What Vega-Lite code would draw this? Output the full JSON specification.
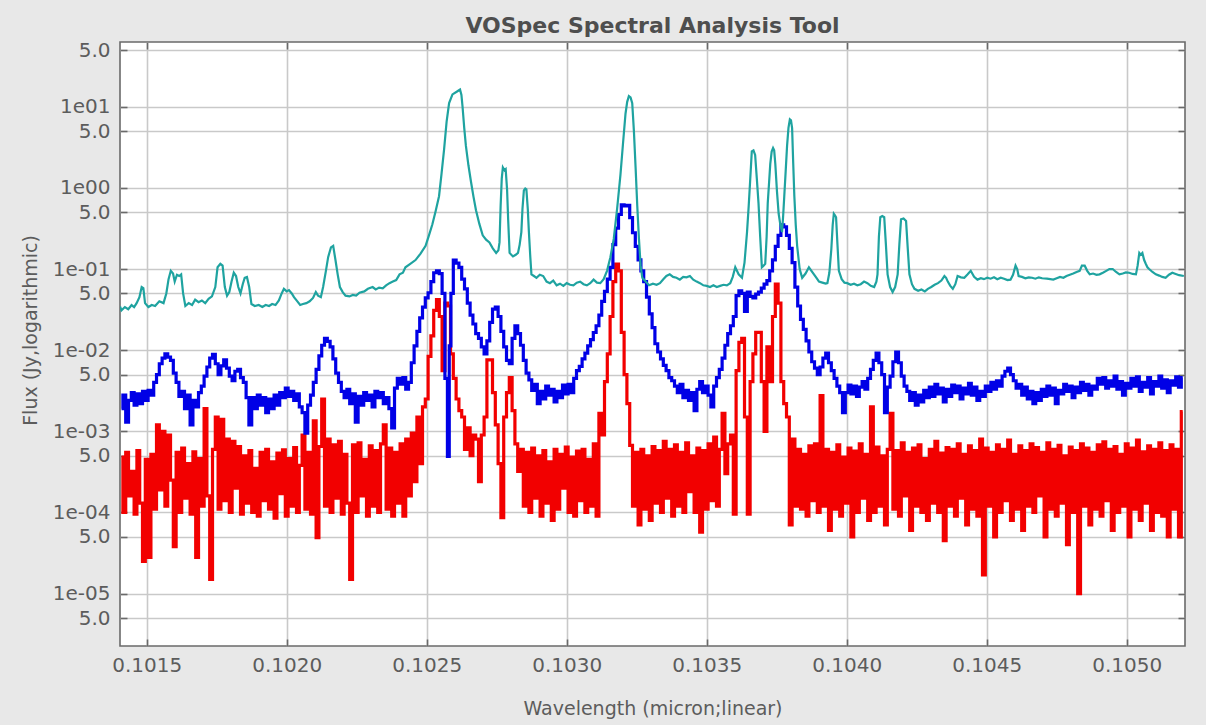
{
"$schema":"https://vega.github.io/schema/vega-lite/v6.json",
"width":1065,"height":604,
"autosize":"none",
"padding":{"left":120,"top":42,"right":21,"bottom":79},
"background":"#e8e8e8",
"title":{"text":"VOSpec Spectral Analysis Tool","font":"DejaVu Sans","fontSize":22,"fontWeight":"bold","color":"#4e4e4e","anchor":"middle","baseline":"alphabetic","offset":11,"dy":26},
"config":{"view":{"stroke":"#6a6a6a","strokeWidth":1.6,"fill":"white"}},
"resolve":{"axis":{"x":"independent","y":"independent"}},
"layer":[
{"data":{"values":[
{"w":0.10141,"f":0.00048},{"w":0.10142,"f":0.0001},{"w":0.10143,"f":0.00055},{"w":0.10144,"f":0.00016},{"w":0.10145,"f":0.00032},{"w":0.10146,"f":0.000095},{"w":0.10147,"f":0.00058},{"w":0.10148,"f":0.00013},{"w":0.10149,"f":0.000025},{"w":0.1015,"f":0.00045},
{"w":0.10151,"f":0.000028},{"w":0.10152,"f":0.00052},{"w":0.10153,"f":0.00011},{"w":0.10154,"f":0.0012},{"w":0.10155,"f":0.00019},{"w":0.10156,"f":0.001},{"w":0.10157,"f":0.00012},{"w":0.10158,"f":0.0009},{"w":0.10159,"f":0.00025},{"w":0.1016,"f":0.000038},
{"w":0.10161,"f":0.00055},{"w":0.10162,"f":0.0001},{"w":0.10163,"f":0.00062},{"w":0.10164,"f":0.00015},{"w":0.10165,"f":0.0004},{"w":0.10166,"f":0.000095},{"w":0.10167,"f":0.00056},{"w":0.10168,"f":0.000028},{"w":0.10169,"f":0.00046},{"w":0.1017,"f":0.00012},
{"w":0.10171,"f":0.0019},{"w":0.10172,"f":0.00016},{"w":0.10173,"f":0.000015},{"w":0.10174,"f":0.0006},{"w":0.10175,"f":0.0015},{"w":0.10176,"f":0.00011},{"w":0.10177,"f":0.0014},{"w":0.10178,"f":0.00014},{"w":0.10179,"f":0.0008},{"w":0.1018,"f":0.0001},
{"w":0.10181,"f":0.00075},{"w":0.10182,"f":0.0002},{"w":0.10183,"f":0.00065},{"w":0.10184,"f":0.000095},{"w":0.10185,"f":0.0005},{"w":0.10186,"f":0.00013},{"w":0.10187,"f":0.00058},{"w":0.10188,"f":0.0001},{"w":0.10189,"f":0.00035},{"w":0.1019,"f":0.00009},
{"w":0.10191,"f":0.00055},{"w":0.10192,"f":0.00014},{"w":0.10193,"f":0.0006},{"w":0.10194,"f":0.00011},{"w":0.10195,"f":0.00042},{"w":0.10196,"f":0.000085},{"w":0.10197,"f":0.00054},{"w":0.10198,"f":0.00017},{"w":0.10199,"f":0.00059},{"w":0.102,"f":0.00009},
{"w":0.10201,"f":0.00046},{"w":0.10202,"f":0.00012},{"w":0.10203,"f":0.00063},{"w":0.10204,"f":0.0001},{"w":0.10205,"f":0.00038},{"w":0.10206,"f":0.0009},{"w":0.10207,"f":0.00011},{"w":0.10208,"f":0.00055},{"w":0.10209,"f":0.000095},{"w":0.1021,"f":0.00135},
{"w":0.10211,"f":0.000049},{"w":0.10212,"f":0.00065},{"w":0.10213,"f":0.0025},{"w":0.10214,"f":0.00012},{"w":0.10215,"f":0.0008},{"w":0.10216,"f":0.0001},{"w":0.10217,"f":0.00068},{"w":0.10218,"f":0.00015},{"w":0.10219,"f":0.00075},{"w":0.1022,"f":0.000095},
{"w":0.10221,"f":0.00052},{"w":0.10222,"f":0.00013},{"w":0.10223,"f":0.000015},{"w":0.10224,"f":0.00068},{"w":0.10225,"f":0.0001},{"w":0.10226,"f":0.00072},{"w":0.10227,"f":0.00016},{"w":0.10228,"f":0.00045},{"w":0.10229,"f":0.00009},{"w":0.1023,"f":0.00066},
{"w":0.10231,"f":0.00012},{"w":0.10232,"f":0.00058},{"w":0.10233,"f":0.0001},{"w":0.10234,"f":0.0007},{"w":0.10235,"f":0.0012},{"w":0.10236,"f":0.00011},{"w":0.10237,"f":0.00062},{"w":0.10238,"f":0.00009},{"w":0.10239,"f":0.00055},{"w":0.1024,"f":0.00013},
{"w":0.10241,"f":0.0007},{"w":0.10242,"f":0.00009},{"w":0.10243,"f":0.0008},{"w":0.10244,"f":0.00016},{"w":0.10245,"f":0.00095},{"w":0.10246,"f":0.00024},{"w":0.10247,"f":0.0015},{"w":0.10248,"f":0.0004},{"w":0.10249,"f":0.002},{"w":0.1025,"f":0.0025},
{"w":0.10251,"f":0.0084},{"w":0.10252,"f":0.015},{"w":0.10253,"f":0.031},{"w":0.10254,"f":0.042},{"w":0.10255,"f":0.026},{"w":0.10256,"f":0.0056},{"w":0.10257,"f":0.038},{"w":0.10258,"f":0.035},{"w":0.10259,"f":0.009},{"w":0.1026,"f":0.0045},
{"w":0.10261,"f":0.0025},{"w":0.10262,"f":0.0018},{"w":0.10263,"f":0.0015},{"w":0.10264,"f":0.0006},{"w":0.10265,"f":0.0011},{"w":0.10266,"f":0.0005},{"w":0.10267,"f":0.0009},{"w":0.10268,"f":0.0008},{"w":0.10269,"f":0.00024},{"w":0.1027,"f":0.0009},
{"w":0.10271,"f":0.0015},{"w":0.10272,"f":0.0076},{"w":0.10273,"f":0.0076},{"w":0.10274,"f":0.003},{"w":0.10275,"f":0.0012},{"w":0.10276,"f":0.0004},{"w":0.10277,"f":0.000086},{"w":0.10278,"f":0.0015},{"w":0.10279,"f":0.003},{"w":0.1028,"f":0.0046},
{"w":0.10281,"f":0.0018},{"w":0.10282,"f":0.0007},{"w":0.10283,"f":0.00032},{"w":0.10284,"f":0.0006},{"w":0.10285,"f":0.00012},{"w":0.10286,"f":0.00055},{"w":0.10287,"f":0.0001},{"w":0.10288,"f":0.00062},{"w":0.10289,"f":0.00015},{"w":0.1029,"f":0.0005},
{"w":0.10291,"f":0.00009},{"w":0.10292,"f":0.00058},{"w":0.10293,"f":0.00013},{"w":0.10294,"f":0.00042},{"w":0.10295,"f":0.00008},{"w":0.10296,"f":0.0006},{"w":0.10297,"f":0.00011},{"w":0.10298,"f":0.00052},{"w":0.10299,"f":0.0002},{"w":0.103,"f":0.00064},
{"w":0.10301,"f":0.0001},{"w":0.10302,"f":0.00048},{"w":0.10303,"f":0.00009},{"w":0.10304,"f":0.00057},{"w":0.10305,"f":0.00014},{"w":0.10306,"f":0.0006},{"w":0.10307,"f":0.0001},{"w":0.10308,"f":0.00045},{"w":0.10309,"f":0.00012},{"w":0.1031,"f":0.0007},
{"w":0.10311,"f":0.00009},{"w":0.10312,"f":0.00166},{"w":0.10313,"f":0.0009},{"w":0.10314,"f":0.0041},{"w":0.10315,"f":0.009},{"w":0.10316,"f":0.026},{"w":0.10317,"f":0.07},{"w":0.10318,"f":0.115},{"w":0.10319,"f":0.095},{"w":0.1032,"f":0.0166},
{"w":0.10321,"f":0.005},{"w":0.10322,"f":0.0022},{"w":0.10323,"f":0.00067},{"w":0.10324,"f":0.00012},{"w":0.10325,"f":0.00055},{"w":0.10326,"f":0.00007},{"w":0.10327,"f":0.0006},{"w":0.10328,"f":0.00011},{"w":0.10329,"f":0.0005},{"w":0.1033,"f":0.00008},
{"w":0.10331,"f":0.00065},{"w":0.10332,"f":0.00013},{"w":0.10333,"f":0.00058},{"w":0.10334,"f":0.0001},{"w":0.10335,"f":0.00075},{"w":0.10336,"f":0.00015},{"w":0.10337,"f":0.0006},{"w":0.10338,"f":0.00009},{"w":0.10339,"f":0.00068},{"w":0.1034,"f":0.00012},
{"w":0.10341,"f":0.00055},{"w":0.10342,"f":0.0001},{"w":0.10343,"f":0.00072},{"w":0.10344,"f":0.00018},{"w":0.10345,"f":0.0005},{"w":0.10346,"f":0.0001},{"w":0.10347,"f":0.00062},{"w":0.10348,"f":0.000057},{"w":0.10349,"f":0.00058},{"w":0.1035,"f":0.00011},
{"w":0.10351,"f":0.0007},{"w":0.10352,"f":0.00014},{"w":0.10353,"f":0.00085},{"w":0.10354,"f":0.00012},{"w":0.10355,"f":0.0006},{"w":0.10356,"f":0.00166},{"w":0.10357,"f":0.0003},{"w":0.10358,"f":0.0007},{"w":0.10359,"f":0.0009},{"w":0.1036,"f":0.000095},
{"w":0.10361,"f":0.0056},{"w":0.10362,"f":0.0125},{"w":0.10363,"f":0.014},{"w":0.10364,"f":0.0015},{"w":0.10365,"f":0.000095},{"w":0.10366,"f":0.0041},{"w":0.10367,"f":0.009},{"w":0.10368,"f":0.0166},{"w":0.10369,"f":0.0166},{"w":0.1037,"f":0.0041},
{"w":0.10371,"f":0.001},{"w":0.10372,"f":0.011},{"w":0.10373,"f":0.0041},{"w":0.10374,"f":0.026},{"w":0.10375,"f":0.065},{"w":0.10376,"f":0.038},{"w":0.10377,"f":0.0041},{"w":0.10378,"f":0.0022},{"w":0.10379,"f":0.0015},{"w":0.1038,"f":0.00007},
{"w":0.10381,"f":0.0008},{"w":0.10382,"f":0.00012},{"w":0.10383,"f":0.0006},{"w":0.10384,"f":0.00011},{"w":0.10385,"f":0.00052},{"w":0.10386,"f":0.00009},{"w":0.10387,"f":0.00066},{"w":0.10388,"f":0.00014},{"w":0.10389,"f":0.0007},{"w":0.1039,"f":0.0001},
{"w":0.10391,"f":0.00275},{"w":0.10392,"f":0.00012},{"w":0.10393,"f":0.0006},{"w":0.10394,"f":0.00006},{"w":0.10395,"f":0.00055},{"w":0.10396,"f":0.00011},{"w":0.10397,"f":0.00068},{"w":0.10398,"f":0.00009},{"w":0.10399,"f":0.00048},{"w":0.104,"f":0.00013},
{"w":0.10401,"f":0.00062},{"w":0.10402,"f":0.00005},{"w":0.10403,"f":0.00057},{"w":0.10404,"f":0.0001},{"w":0.10405,"f":0.0007},{"w":0.10406,"f":0.00015},{"w":0.10407,"f":0.00052},{"w":0.10408,"f":0.00008},{"w":0.10409,"f":0.002},{"w":0.1041,"f":0.0001},
{"w":0.10411,"f":0.00064},{"w":0.10412,"f":0.00012},{"w":0.10413,"f":0.0005},{"w":0.10414,"f":0.00007},{"w":0.10415,"f":0.0006},{"w":0.10416,"f":0.00166},{"w":0.10417,"f":0.00011},{"w":0.10418,"f":0.00058},{"w":0.10419,"f":0.00009},{"w":0.1042,"f":0.00072},
{"w":0.10421,"f":0.00016},{"w":0.10422,"f":0.00055},{"w":0.10423,"f":0.00006},{"w":0.10424,"f":0.00062},{"w":0.10425,"f":0.00012},{"w":0.10426,"f":0.00068},{"w":0.10427,"f":0.0001},{"w":0.10428,"f":0.00046},{"w":0.10429,"f":0.00008},{"w":0.1043,"f":0.0006},
{"w":0.10431,"f":0.00013},{"w":0.10432,"f":0.00075},{"w":0.10433,"f":0.0001},{"w":0.10434,"f":0.00054},{"w":0.10435,"f":0.000045},{"w":0.10436,"f":0.00063},{"w":0.10437,"f":0.00012},{"w":0.10438,"f":0.0006},{"w":0.10439,"f":0.00009},{"w":0.1044,"f":0.0007},
{"w":0.10441,"f":0.00015},{"w":0.10442,"f":0.00052},{"w":0.10443,"f":0.00007},{"w":0.10444,"f":0.00066},{"w":0.10445,"f":0.00011},{"w":0.10446,"f":0.00058},{"w":0.10447,"f":0.00009},{"w":0.10448,"f":0.0008},{"w":0.10449,"f":0.000017},{"w":0.1045,"f":0.00062},
{"w":0.10451,"f":0.00012},{"w":0.10452,"f":0.00055},{"w":0.10453,"f":0.00005},{"w":0.10454,"f":0.00068},{"w":0.10455,"f":0.0001},{"w":0.10456,"f":0.0006},{"w":0.10457,"f":0.00014},{"w":0.10458,"f":0.00078},{"w":0.10459,"f":0.00008},{"w":0.1046,"f":0.00052},
{"w":0.10461,"f":0.00011},{"w":0.10462,"f":0.00066},{"w":0.10463,"f":0.00006},{"w":0.10464,"f":0.00058},{"w":0.10465,"f":0.00012},{"w":0.10466,"f":0.0007},{"w":0.10467,"f":0.0001},{"w":0.10468,"f":0.00063},{"w":0.10469,"f":0.00016},{"w":0.1047,"f":0.00055},
{"w":0.10471,"f":0.00005},{"w":0.10472,"f":0.00072},{"w":0.10473,"f":0.00011},{"w":0.10474,"f":0.0006},{"w":0.10475,"f":0.00009},{"w":0.10476,"f":0.00067},{"w":0.10477,"f":0.00013},{"w":0.10478,"f":0.0005},{"w":0.10479,"f":0.00004},{"w":0.1048,"f":0.00064},
{"w":0.10481,"f":0.0001},{"w":0.10482,"f":0.00058},{"w":0.10483,"f":0.00001},{"w":0.10484,"f":0.0007},{"w":0.10485,"f":0.00012},{"w":0.10486,"f":0.00062},{"w":0.10487,"f":0.00007},{"w":0.10488,"f":0.00055},{"w":0.10489,"f":0.00011},{"w":0.1049,"f":0.00068},
{"w":0.10491,"f":0.00009},{"w":0.10492,"f":0.00074},{"w":0.10493,"f":0.00014},{"w":0.10494,"f":0.0006},{"w":0.10495,"f":0.00006},{"w":0.10496,"f":0.00065},{"w":0.10497,"f":0.0001},{"w":0.10498,"f":0.00052},{"w":0.10499,"f":0.00012},{"w":0.105,"f":0.0007},
{"w":0.10501,"f":0.00005},{"w":0.10502,"f":0.00062},{"w":0.10503,"f":0.00011},{"w":0.10504,"f":0.00078},{"w":0.10505,"f":0.00008},{"w":0.10506,"f":0.00056},{"w":0.10507,"f":0.00013},{"w":0.10508,"f":0.00066},{"w":0.10509,"f":0.00006},{"w":0.1051,"f":0.0006},
{"w":0.10511,"f":0.0001},{"w":0.10512,"f":0.00072},{"w":0.10513,"f":0.00009},{"w":0.10514,"f":0.00058},{"w":0.10515,"f":0.00005},{"w":0.10516,"f":0.00068},{"w":0.10517,"f":0.00011},{"w":0.10518,"f":0.0006},{"w":0.10519,"f":0.00005},{"w":0.1052,"f":0.00175}
]},
"mark":{"type":"line","interpolate":"step","color":"#f20000","strokeWidth":3.2,"clip":true},
"encoding":{
"x":{"field":"w","type":"quantitative","scale":{"domain":[0.1014046,0.1052082],"nice":false,"zero":false},
"axis":{"orient":"bottom","values":[0.1015,0.102,0.1025,0.103,0.1035,0.104,0.1045,0.105],"format":".4f","grid":true,"gridColor":"#c9c9c9","gridWidth":1.6,"ticks":false,"domain":false,"labelFont":"DejaVu Sans","labelFontSize":20,"labelColor":"#5c5c5c","labelPadding":9,"title":"Wavelength (micron;linear)","titleFont":"DejaVu Sans","titleFontSize":19,"titleFontWeight":"normal","titleColor":"#5c5c5c","titleBaseline":"alphabetic","titleY":68}},
"y":{"field":"f","type":"quantitative","scale":{"type":"log","domain":[0.00000226,62.8],"nice":false},
"axis":{"orient":"left","values":[50,10,5,1,0.5,0.1,0.05,0.01,0.005,0.001,0.0005,0.0001,0.00005,0.00001,0.000005],"labelExpr":"abs(log(datum.value)/LN10 - round(log(datum.value)/LN10)) < 0.01 ? (round(log(datum.value)/LN10) >= 0 ? '1e' + (round(log(datum.value)/LN10) < 10 ? '0' : '') + round(log(datum.value)/LN10) : '1e-' + (abs(round(log(datum.value)/LN10)) < 10 ? '0' : '') + abs(round(log(datum.value)/LN10))) : '5.0'","grid":true,"gridColor":"#c9c9c9","gridWidth":1.6,"ticks":false,"domain":false,"labelFont":"DejaVu Sans","labelFontSize":20,"labelColor":"#5c5c5c","labelPadding":10,"title":"Flux (Jy,logarithmic)","titleFont":"DejaVu Sans","titleFontSize":19,"titleFontWeight":"normal","titleColor":"#5c5c5c","titleAngle":-90,"titleAlign":"center","titleBaseline":"alphabetic","titleX":-84,"titleY":288}}
}},
{"data":{"values":[
{"w":0.10141,"f":0.0019},{"w":0.10142,"f":0.0028},{"w":0.10143,"f":0.0013},{"w":0.10144,"f":0.0024},{"w":0.10145,"f":0.003},{"w":0.10146,"f":0.0021},{"w":0.10147,"f":0.0029},{"w":0.10148,"f":0.0022},{"w":0.10149,"f":0.0031},{"w":0.1015,"f":0.0024},
{"w":0.10151,"f":0.0032},{"w":0.10152,"f":0.0028},{"w":0.10153,"f":0.004},{"w":0.10154,"f":0.005},{"w":0.10155,"f":0.0068},{"w":0.10156,"f":0.008},{"w":0.10157,"f":0.009},{"w":0.10158,"f":0.0082},{"w":0.10159,"f":0.0075},{"w":0.1016,"f":0.0052},
{"w":0.10161,"f":0.004},{"w":0.10162,"f":0.0027},{"w":0.10163,"f":0.0031},{"w":0.10164,"f":0.0019},{"w":0.10165,"f":0.0028},{"w":0.10166,"f":0.0012},{"w":0.10167,"f":0.0024},{"w":0.10168,"f":0.002},{"w":0.10169,"f":0.003},{"w":0.1017,"f":0.0036},
{"w":0.10171,"f":0.0048},{"w":0.10172,"f":0.0062},{"w":0.10173,"f":0.008},{"w":0.10174,"f":0.0089},{"w":0.10175,"f":0.0068},{"w":0.10176,"f":0.005},{"w":0.10177,"f":0.0064},{"w":0.10178,"f":0.0076},{"w":0.10179,"f":0.006},{"w":0.1018,"f":0.0048},
{"w":0.10181,"f":0.0042},{"w":0.10182,"f":0.0055},{"w":0.10183,"f":0.0058},{"w":0.10184,"f":0.0046},{"w":0.10185,"f":0.004},{"w":0.10186,"f":0.0026},{"w":0.10187,"f":0.0012},{"w":0.10188,"f":0.0026},{"w":0.10189,"f":0.0019},{"w":0.1019,"f":0.0028},
{"w":0.10191,"f":0.0021},{"w":0.10192,"f":0.0026},{"w":0.10193,"f":0.0017},{"w":0.10194,"f":0.0025},{"w":0.10195,"f":0.0019},{"w":0.10196,"f":0.0028},{"w":0.10197,"f":0.0021},{"w":0.10198,"f":0.003},{"w":0.10199,"f":0.0026},{"w":0.102,"f":0.0034},
{"w":0.10201,"f":0.0027},{"w":0.10202,"f":0.0031},{"w":0.10203,"f":0.0024},{"w":0.10204,"f":0.0029},{"w":0.10205,"f":0.002},{"w":0.10206,"f":0.0017},{"w":0.10207,"f":0.00095},{"w":0.10208,"f":0.0021},{"w":0.10209,"f":0.0028},{"w":0.1021,"f":0.004},
{"w":0.10211,"f":0.0058},{"w":0.10212,"f":0.0085},{"w":0.10213,"f":0.0115},{"w":0.10214,"f":0.014},{"w":0.10215,"f":0.0128},{"w":0.10216,"f":0.011},{"w":0.10217,"f":0.0078},{"w":0.10218,"f":0.0052},{"w":0.10219,"f":0.004},{"w":0.1022,"f":0.0031},
{"w":0.10221,"f":0.0026},{"w":0.10222,"f":0.0033},{"w":0.10223,"f":0.0022},{"w":0.10224,"f":0.0029},{"w":0.10225,"f":0.0013},{"w":0.10226,"f":0.0027},{"w":0.10227,"f":0.0021},{"w":0.10228,"f":0.003},{"w":0.10229,"f":0.0024},{"w":0.1023,"f":0.0028},
{"w":0.10231,"f":0.002},{"w":0.10232,"f":0.0031},{"w":0.10233,"f":0.0026},{"w":0.10234,"f":0.003},{"w":0.10235,"f":0.0022},{"w":0.10236,"f":0.0026},{"w":0.10237,"f":0.0019},{"w":0.10238,"f":0.0011},{"w":0.10239,"f":0.0034},{"w":0.1024,"f":0.0045},
{"w":0.10241,"f":0.0038},{"w":0.10242,"f":0.0046},{"w":0.10243,"f":0.0033},{"w":0.10244,"f":0.004},{"w":0.10245,"f":0.007},{"w":0.10246,"f":0.0113},{"w":0.10247,"f":0.017},{"w":0.10248,"f":0.025},{"w":0.10249,"f":0.034},{"w":0.1025,"f":0.044},
{"w":0.10251,"f":0.051},{"w":0.10252,"f":0.07},{"w":0.10253,"f":0.09},{"w":0.10254,"f":0.095},{"w":0.10255,"f":0.088},{"w":0.10256,"f":0.05},{"w":0.10257,"f":0.0045},{"w":0.102578,"f":0.00049},{"w":0.102583,"f":0.0113},{"w":0.10259,"f":0.05},
{"w":0.1026,"f":0.129},{"w":0.10261,"f":0.118},{"w":0.10262,"f":0.105},{"w":0.10263,"f":0.075},{"w":0.10264,"f":0.057},{"w":0.10265,"f":0.038},{"w":0.10266,"f":0.027},{"w":0.10267,"f":0.021},{"w":0.10268,"f":0.016},{"w":0.10269,"f":0.014},
{"w":0.1027,"f":0.011},{"w":0.10271,"f":0.009},{"w":0.10272,"f":0.013},{"w":0.10273,"f":0.022},{"w":0.10274,"f":0.032},{"w":0.10275,"f":0.034},{"w":0.10276,"f":0.026},{"w":0.10277,"f":0.017},{"w":0.10278,"f":0.011},{"w":0.10279,"f":0.0075},
{"w":0.1028,"f":0.0068},{"w":0.10281,"f":0.014},{"w":0.10282,"f":0.02},{"w":0.10283,"f":0.016},{"w":0.10284,"f":0.0115},{"w":0.10285,"f":0.0075},{"w":0.10286,"f":0.0052},{"w":0.10287,"f":0.0043},{"w":0.10288,"f":0.0032},{"w":0.10289,"f":0.0038},
{"w":0.1029,"f":0.0022},{"w":0.10291,"f":0.0031},{"w":0.10292,"f":0.0025},{"w":0.10293,"f":0.0036},{"w":0.10294,"f":0.0028},{"w":0.10295,"f":0.0033},{"w":0.10296,"f":0.0023},{"w":0.10297,"f":0.0031},{"w":0.10298,"f":0.0026},{"w":0.10299,"f":0.0037},
{"w":0.103,"f":0.0029},{"w":0.10301,"f":0.0038},{"w":0.10302,"f":0.003},{"w":0.10303,"f":0.0045},{"w":0.10304,"f":0.0056},{"w":0.10305,"f":0.0063},{"w":0.10306,"f":0.0078},{"w":0.10307,"f":0.0092},{"w":0.10308,"f":0.0113},{"w":0.10309,"f":0.0135},
{"w":0.1031,"f":0.0165},{"w":0.10311,"f":0.02},{"w":0.10312,"f":0.027},{"w":0.10313,"f":0.04},{"w":0.10314,"f":0.053},{"w":0.10315,"f":0.075},{"w":0.10316,"f":0.105},{"w":0.10317,"f":0.2},{"w":0.10318,"f":0.32},{"w":0.10319,"f":0.47},
{"w":0.1032,"f":0.62},{"w":0.10321,"f":0.6},{"w":0.10322,"f":0.61},{"w":0.10323,"f":0.43},{"w":0.10324,"f":0.28},{"w":0.10325,"f":0.19},{"w":0.10326,"f":0.13},{"w":0.10327,"f":0.095},{"w":0.10328,"f":0.07},{"w":0.10329,"f":0.045},
{"w":0.1033,"f":0.028},{"w":0.10331,"f":0.019},{"w":0.10332,"f":0.012},{"w":0.10333,"f":0.0095},{"w":0.10334,"f":0.0078},{"w":0.10335,"f":0.0065},{"w":0.10336,"f":0.0056},{"w":0.10337,"f":0.0046},{"w":0.10338,"f":0.0042},{"w":0.10339,"f":0.0036},
{"w":0.1034,"f":0.003},{"w":0.10341,"f":0.0038},{"w":0.10342,"f":0.0026},{"w":0.10343,"f":0.0032},{"w":0.10344,"f":0.0024},{"w":0.10345,"f":0.003},{"w":0.10346,"f":0.0018},{"w":0.10347,"f":0.0033},{"w":0.10348,"f":0.0041},{"w":0.10349,"f":0.003},
{"w":0.1035,"f":0.0036},{"w":0.10351,"f":0.0028},{"w":0.10352,"f":0.002},{"w":0.10353,"f":0.0036},{"w":0.10354,"f":0.0046},{"w":0.10355,"f":0.0058},{"w":0.10356,"f":0.008},{"w":0.10357,"f":0.0115},{"w":0.10358,"f":0.016},{"w":0.10359,"f":0.02},
{"w":0.1036,"f":0.026},{"w":0.10361,"f":0.047},{"w":0.10362,"f":0.054},{"w":0.10363,"f":0.05},{"w":0.10364,"f":0.03},{"w":0.10365,"f":0.052},{"w":0.10366,"f":0.046},{"w":0.10367,"f":0.044},{"w":0.10368,"f":0.049},{"w":0.10369,"f":0.052},
{"w":0.1037,"f":0.058},{"w":0.10371,"f":0.065},{"w":0.10372,"f":0.072},{"w":0.10373,"f":0.095},{"w":0.10374,"f":0.13},{"w":0.10375,"f":0.19},{"w":0.10376,"f":0.26},{"w":0.10377,"f":0.35},{"w":0.10378,"f":0.33},{"w":0.10379,"f":0.26},
{"w":0.1038,"f":0.18},{"w":0.10381,"f":0.12},{"w":0.10382,"f":0.06},{"w":0.10383,"f":0.035},{"w":0.10384,"f":0.024},{"w":0.10385,"f":0.018},{"w":0.10386,"f":0.013},{"w":0.10387,"f":0.0095},{"w":0.10388,"f":0.0072},{"w":0.10389,"f":0.006},
{"w":0.1039,"f":0.005},{"w":0.10391,"f":0.0062},{"w":0.10392,"f":0.008},{"w":0.10393,"f":0.0092},{"w":0.10394,"f":0.007},{"w":0.10395,"f":0.0056},{"w":0.10396,"f":0.0045},{"w":0.10397,"f":0.0036},{"w":0.10398,"f":0.003},{"w":0.10399,"f":0.0017},
{"w":0.104,"f":0.003},{"w":0.10401,"f":0.0037},{"w":0.10402,"f":0.0029},{"w":0.10403,"f":0.0036},{"w":0.10404,"f":0.0027},{"w":0.10405,"f":0.0035},{"w":0.10406,"f":0.0041},{"w":0.10407,"f":0.0033},{"w":0.10408,"f":0.0045},{"w":0.10409,"f":0.0058},
{"w":0.1041,"f":0.0075},{"w":0.10411,"f":0.0092},{"w":0.10412,"f":0.007},{"w":0.10413,"f":0.005},{"w":0.10414,"f":0.0017},{"w":0.10415,"f":0.0035},{"w":0.10416,"f":0.0048},{"w":0.10417,"f":0.0072},{"w":0.10418,"f":0.0095},{"w":0.10419,"f":0.007},
{"w":0.1042,"f":0.0048},{"w":0.10421,"f":0.0036},{"w":0.10422,"f":0.0031},{"w":0.10423,"f":0.0024},{"w":0.10424,"f":0.003},{"w":0.10425,"f":0.0021},{"w":0.10426,"f":0.0028},{"w":0.10427,"f":0.0023},{"w":0.10428,"f":0.0032},{"w":0.10429,"f":0.0026},
{"w":0.1043,"f":0.0035},{"w":0.10431,"f":0.0027},{"w":0.10432,"f":0.0038},{"w":0.10433,"f":0.0029},{"w":0.10434,"f":0.0034},{"w":0.10435,"f":0.0023},{"w":0.10436,"f":0.0033},{"w":0.10437,"f":0.0027},{"w":0.10438,"f":0.0037},{"w":0.10439,"f":0.003},
{"w":0.1044,"f":0.0036},{"w":0.10441,"f":0.0025},{"w":0.10442,"f":0.0034},{"w":0.10443,"f":0.0029},{"w":0.10444,"f":0.0039},{"w":0.10445,"f":0.0028},{"w":0.10446,"f":0.0035},{"w":0.10447,"f":0.0024},{"w":0.10448,"f":0.0031},{"w":0.10449,"f":0.0027},
{"w":0.1045,"f":0.0036},{"w":0.10451,"f":0.0031},{"w":0.10452,"f":0.004},{"w":0.10453,"f":0.0033},{"w":0.10454,"f":0.0042},{"w":0.10455,"f":0.0036},{"w":0.10456,"f":0.0048},{"w":0.10457,"f":0.0055},{"w":0.10458,"f":0.006},{"w":0.10459,"f":0.005},
{"w":0.1046,"f":0.0042},{"w":0.10461,"f":0.0034},{"w":0.10462,"f":0.0038},{"w":0.10463,"f":0.0028},{"w":0.10464,"f":0.0035},{"w":0.10465,"f":0.0025},{"w":0.10466,"f":0.0031},{"w":0.10467,"f":0.0022},{"w":0.10468,"f":0.003},{"w":0.10469,"f":0.0024},
{"w":0.1047,"f":0.0033},{"w":0.10471,"f":0.0027},{"w":0.10472,"f":0.0036},{"w":0.10473,"f":0.0028},{"w":0.10474,"f":0.0034},{"w":0.10475,"f":0.0022},{"w":0.10476,"f":0.0032},{"w":0.10477,"f":0.0029},{"w":0.10478,"f":0.0038},{"w":0.10479,"f":0.0031},
{"w":0.1048,"f":0.0036},{"w":0.10481,"f":0.0026},{"w":0.10482,"f":0.0035},{"w":0.10483,"f":0.003},{"w":0.10484,"f":0.004},{"w":0.10485,"f":0.0032},{"w":0.10486,"f":0.0038},{"w":0.10487,"f":0.0028},{"w":0.10488,"f":0.0036},{"w":0.10489,"f":0.0033},
{"w":0.1049,"f":0.0045},{"w":0.10491,"f":0.0038},{"w":0.10492,"f":0.0046},{"w":0.10493,"f":0.0034},{"w":0.10494,"f":0.0042},{"w":0.10495,"f":0.0036},{"w":0.10496,"f":0.0048},{"w":0.10497,"f":0.0033},{"w":0.10498,"f":0.0041},{"w":0.10499,"f":0.0028},
{"w":0.105,"f":0.0039},{"w":0.10501,"f":0.0034},{"w":0.10502,"f":0.0045},{"w":0.10503,"f":0.0036},{"w":0.10504,"f":0.0047},{"w":0.10505,"f":0.0031},{"w":0.10506,"f":0.004},{"w":0.10507,"f":0.0035},{"w":0.10508,"f":0.0046},{"w":0.10509,"f":0.0029},
{"w":0.1051,"f":0.0041},{"w":0.10511,"f":0.0036},{"w":0.10512,"f":0.0048},{"w":0.10513,"f":0.0034},{"w":0.10514,"f":0.0043},{"w":0.10515,"f":0.003},{"w":0.10516,"f":0.0042},{"w":0.10517,"f":0.0037},{"w":0.10518,"f":0.0047},{"w":0.10519,"f":0.0035},{"w":0.1052,"f":0.0046}
]},
"mark":{"type":"line","interpolate":"step","color":"#0000e6","strokeWidth":3.2,"clip":true},
"encoding":{
"x":{"field":"w","type":"quantitative","axis":{"orient":"bottom","values":[0.1015,0.102,0.1025,0.103,0.1035,0.104,0.1045,0.105],"grid":false,"labels":false,"domain":false,"ticks":true,"tickSize":-7,"tickWidth":1.6,"tickColor":"#6a6a6a","title":null}},
"y":{"field":"f","type":"quantitative","axis":{"orient":"left","values":[50,10,5,1,0.5,0.1,0.05,0.01,0.005,0.001,0.0005,0.0001,0.00005,0.00001,0.000005],"grid":false,"labels":false,"domain":false,"ticks":true,"tickSize":-7,"tickWidth":1.6,"tickColor":"#6a6a6a","title":null}}
}},
{"data":{"values":[
{"w":0.101405,"f":0.0345},{"w":0.10141,"f":0.031},{"w":0.101422,"f":0.034},{"w":0.101434,"f":0.032},{"w":0.101446,"f":0.036},{"w":0.101455,"f":0.034},{"w":0.101464,"f":0.038},{"w":0.101474,"f":0.045},{"w":0.101482,"f":0.06},{"w":0.101488,"f":0.058},
{"w":0.101494,"f":0.038},{"w":0.101506,"f":0.034},{"w":0.101518,"f":0.036},{"w":0.10153,"f":0.035},{"w":0.101545,"f":0.04},{"w":0.10156,"f":0.038},{"w":0.10157,"f":0.05},{"w":0.101578,"f":0.075},{"w":0.101586,"f":0.095},{"w":0.101594,"f":0.088},
{"w":0.1016,"f":0.07},{"w":0.101608,"f":0.085},{"w":0.101616,"f":0.082},{"w":0.101623,"f":0.086},{"w":0.10163,"f":0.05},{"w":0.101638,"f":0.035},{"w":0.10165,"f":0.038},{"w":0.101662,"f":0.036},{"w":0.101673,"f":0.042},{"w":0.101685,"f":0.039},
{"w":0.101697,"f":0.041},{"w":0.101709,"f":0.038},{"w":0.101721,"f":0.043},{"w":0.101733,"f":0.046},{"w":0.101745,"f":0.06},{"w":0.101753,"f":0.105},{"w":0.101763,"f":0.116},{"w":0.101771,"f":0.11},{"w":0.101779,"f":0.06},{"w":0.101787,"f":0.047},
{"w":0.101795,"f":0.052},{"w":0.101803,"f":0.07},{"w":0.101811,"f":0.09},{"w":0.101819,"f":0.082},{"w":0.101827,"f":0.06},{"w":0.101835,"f":0.05},{"w":0.101843,"f":0.065},{"w":0.10185,"f":0.078},{"w":0.101858,"f":0.08},{"w":0.101866,"f":0.06},
{"w":0.101874,"f":0.037},{"w":0.101886,"f":0.035},{"w":0.1019,"f":0.036},{"w":0.101913,"f":0.034},{"w":0.101925,"f":0.036},{"w":0.101937,"f":0.035},{"w":0.101948,"f":0.037},{"w":0.10196,"f":0.036},{"w":0.101972,"f":0.041},{"w":0.101982,"f":0.05},
{"w":0.10199,"f":0.057},{"w":0.102,"f":0.053},{"w":0.102008,"f":0.055},{"w":0.102018,"f":0.05},{"w":0.102026,"f":0.045},{"w":0.102038,"f":0.04},{"w":0.102048,"f":0.036},{"w":0.102058,"f":0.037},{"w":0.10207,"f":0.038},{"w":0.102082,"f":0.04},
{"w":0.102094,"f":0.044},{"w":0.102104,"f":0.052},{"w":0.102112,"f":0.047},{"w":0.102122,"f":0.045},{"w":0.10213,"f":0.06},{"w":0.10214,"f":0.095},{"w":0.102148,"f":0.14},{"w":0.102158,"f":0.185},{"w":0.102166,"f":0.193},{"w":0.102174,"f":0.13},
{"w":0.102182,"f":0.086},{"w":0.10219,"f":0.06},{"w":0.1022,"f":0.052},{"w":0.10221,"f":0.047},{"w":0.102224,"f":0.046},{"w":0.102236,"f":0.048},{"w":0.102248,"f":0.047},{"w":0.10226,"f":0.051},{"w":0.102277,"f":0.053},{"w":0.10229,"f":0.057},
{"w":0.102307,"f":0.06},{"w":0.102318,"f":0.056},{"w":0.10233,"f":0.059},{"w":0.102343,"f":0.058},{"w":0.102355,"f":0.063},{"w":0.102367,"f":0.067},{"w":0.102379,"f":0.07},{"w":0.102391,"f":0.073},{"w":0.102403,"f":0.086},{"w":0.102415,"f":0.09},
{"w":0.102424,"f":0.105},{"w":0.10244,"f":0.115},{"w":0.10246,"f":0.129},{"w":0.102478,"f":0.155},{"w":0.102496,"f":0.193},{"w":0.102508,"f":0.26},{"w":0.10252,"f":0.354},{"w":0.102532,"f":0.52},{"w":0.102544,"f":0.79},{"w":0.102553,"f":1.5},
{"w":0.102562,"f":2.97},{"w":0.102571,"f":6.5},{"w":0.10258,"f":11.1},{"w":0.102592,"f":14.2},{"w":0.102607,"f":15.3},{"w":0.102619,"f":16.3},{"w":0.102624,"f":14},{"w":0.102628,"f":10},{"w":0.102634,"f":5.5},{"w":0.10264,"f":3.29},
{"w":0.102649,"f":1.9},{"w":0.102658,"f":1.2},{"w":0.102667,"f":0.78},{"w":0.102676,"f":0.53},{"w":0.102688,"f":0.36},{"w":0.1027,"f":0.26},{"w":0.102712,"f":0.23},{"w":0.102724,"f":0.213},{"w":0.102736,"f":0.18},{"w":0.102748,"f":0.158},
{"w":0.102756,"f":0.17},{"w":0.10276,"f":0.213},{"w":0.102764,"f":0.6},{"w":0.102768,"f":1.3},{"w":0.102772,"f":1.79},{"w":0.102778,"f":1.65},{"w":0.102782,"f":1.7},{"w":0.102787,"f":0.96},{"w":0.102791,"f":0.4},{"w":0.102796,"f":0.158},
{"w":0.102808,"f":0.143},{"w":0.102818,"f":0.15},{"w":0.102826,"f":0.158},{"w":0.102832,"f":0.2},{"w":0.102838,"f":0.285},{"w":0.102842,"f":0.55},{"w":0.102847,"f":0.93},{"w":0.102852,"f":0.98},{"w":0.102856,"f":0.96},{"w":0.102861,"f":0.55},
{"w":0.102865,"f":0.285},{"w":0.10287,"f":0.14},{"w":0.102874,"f":0.086},{"w":0.102883,"f":0.082},{"w":0.102892,"f":0.078},{"w":0.102904,"f":0.085},{"w":0.102916,"f":0.082},{"w":0.102928,"f":0.07},{"w":0.10294,"f":0.067},{"w":0.102952,"f":0.072},
{"w":0.102964,"f":0.063},{"w":0.102976,"f":0.066},{"w":0.102988,"f":0.062},{"w":0.103,"f":0.067},{"w":0.103012,"f":0.064},{"w":0.103024,"f":0.063},{"w":0.103036,"f":0.068},{"w":0.103048,"f":0.07},{"w":0.10306,"f":0.065},{"w":0.103072,"f":0.063},
{"w":0.103084,"f":0.067},{"w":0.103096,"f":0.074},{"w":0.103108,"f":0.068},{"w":0.10312,"f":0.067},{"w":0.103132,"f":0.075},{"w":0.103144,"f":0.095},{"w":0.103156,"f":0.14},{"w":0.103168,"f":0.235},{"w":0.10318,"f":0.55},{"w":0.103192,"f":1.46},
{"w":0.103201,"f":3.5},{"w":0.10321,"f":8.2},{"w":0.103216,"f":11.5},{"w":0.103222,"f":13.5},{"w":0.103228,"f":13},{"w":0.103234,"f":11.1},{"w":0.10324,"f":5},{"w":0.103246,"f":1.79},{"w":0.103252,"f":0.6},{"w":0.103258,"f":0.235},
{"w":0.103264,"f":0.11},{"w":0.10327,"f":0.078},{"w":0.103282,"f":0.07},{"w":0.103294,"f":0.063},{"w":0.103308,"f":0.066},{"w":0.103321,"f":0.064},{"w":0.103333,"f":0.067},{"w":0.103345,"f":0.075},{"w":0.103356,"f":0.082},{"w":0.103368,"f":0.086},
{"w":0.10338,"f":0.08},{"w":0.103392,"f":0.078},{"w":0.103404,"f":0.074},{"w":0.103416,"f":0.08},{"w":0.103428,"f":0.079},{"w":0.10344,"f":0.082},{"w":0.103452,"f":0.074},{"w":0.103464,"f":0.07},{"w":0.103476,"f":0.067},{"w":0.103488,"f":0.063},
{"w":0.1035,"f":0.062},{"w":0.103512,"f":0.06},{"w":0.103524,"f":0.063},{"w":0.103536,"f":0.06},{"w":0.103548,"f":0.062},{"w":0.10356,"f":0.064},{"w":0.103572,"f":0.063},{"w":0.103584,"f":0.067},{"w":0.103593,"f":0.08},{"w":0.103602,"f":0.105},
{"w":0.103608,"f":0.095},{"w":0.103614,"f":0.086},{"w":0.103626,"f":0.078},{"w":0.103635,"f":0.12},{"w":0.103644,"f":0.285},{"w":0.10365,"f":0.6},{"w":0.103655,"f":1.2},{"w":0.103661,"f":2.82},{"w":0.103667,"f":2.9},{"w":0.103673,"f":2.55},
{"w":0.103679,"f":1.3},{"w":0.103685,"f":0.65},{"w":0.103691,"f":0.25},{"w":0.103697,"f":0.105},{"w":0.103703,"f":0.11},{"w":0.103709,"f":0.116},{"w":0.103714,"f":0.25},{"w":0.103718,"f":0.65},{"w":0.103723,"f":1.2},{"w":0.103727,"f":1.98},
{"w":0.103732,"f":2.8},{"w":0.103737,"f":3.1},{"w":0.103741,"f":2.9},{"w":0.103745,"f":1.98},{"w":0.103751,"f":0.9},{"w":0.103757,"f":0.48},{"w":0.103763,"f":0.35},{"w":0.103769,"f":0.285},{"w":0.103773,"f":0.45},{"w":0.103777,"f":0.79},
{"w":0.103782,"f":1.6},{"w":0.103787,"f":3.29},{"w":0.103792,"f":5.5},{"w":0.103797,"f":7},{"w":0.103801,"f":6.8},{"w":0.103805,"f":5.45},{"w":0.103809,"f":2},{"w":0.103813,"f":0.79},{"w":0.103818,"f":0.35},{"w":0.103823,"f":0.193},
{"w":0.103832,"f":0.1},{"w":0.103841,"f":0.078},{"w":0.103853,"f":0.088},{"w":0.103865,"f":0.105},{"w":0.103874,"f":0.095},{"w":0.103883,"f":0.086},{"w":0.103892,"f":0.078},{"w":0.103901,"f":0.07},{"w":0.103913,"f":0.068},{"w":0.103925,"f":0.066},
{"w":0.103931,"f":0.067},{"w":0.103938,"f":0.09},{"w":0.103945,"f":0.174},{"w":0.10395,"f":0.35},{"w":0.103954,"f":0.48},{"w":0.103958,"f":0.46},{"w":0.103962,"f":0.435},{"w":0.103967,"f":0.2},{"w":0.103972,"f":0.095},{"w":0.103982,"f":0.075},
{"w":0.103992,"f":0.068},{"w":0.104002,"f":0.067},{"w":0.104014,"f":0.064},{"w":0.104026,"f":0.066},{"w":0.104038,"f":0.063},{"w":0.10405,"f":0.065},{"w":0.104062,"f":0.07},{"w":0.104074,"f":0.067},{"w":0.104086,"f":0.062},{"w":0.104098,"f":0.06},
{"w":0.104106,"f":0.07},{"w":0.10411,"f":0.086},{"w":0.104115,"f":0.25},{"w":0.10412,"f":0.435},{"w":0.104127,"f":0.45},{"w":0.104134,"f":0.435},{"w":0.10414,"f":0.2},{"w":0.104146,"f":0.086},{"w":0.104155,"f":0.06},{"w":0.104164,"f":0.052},
{"w":0.104173,"f":0.06},{"w":0.104182,"f":0.086},{"w":0.104188,"f":0.2},{"w":0.104194,"f":0.41},{"w":0.104203,"f":0.42},{"w":0.104212,"f":0.39},{"w":0.104218,"f":0.18},{"w":0.104224,"f":0.086},{"w":0.104233,"f":0.065},{"w":0.104242,"f":0.057},
{"w":0.104255,"f":0.054},{"w":0.104267,"f":0.056},{"w":0.104279,"f":0.053},{"w":0.10429,"f":0.057},{"w":0.104302,"f":0.06},{"w":0.104314,"f":0.064},{"w":0.104326,"f":0.067},{"w":0.104338,"f":0.072},{"w":0.104349,"f":0.082},{"w":0.104355,"f":0.078},
{"w":0.104361,"f":0.07},{"w":0.10437,"f":0.062},{"w":0.104379,"f":0.057},{"w":0.104388,"f":0.065},{"w":0.104396,"f":0.082},{"w":0.104408,"f":0.079},{"w":0.10442,"f":0.078},{"w":0.104432,"f":0.086},{"w":0.104443,"f":0.095},{"w":0.104455,"f":0.08},
{"w":0.104467,"f":0.074},{"w":0.104479,"f":0.077},{"w":0.10449,"f":0.075},{"w":0.104502,"f":0.078},{"w":0.104514,"f":0.076},{"w":0.104526,"f":0.079},{"w":0.104538,"f":0.075},{"w":0.10455,"f":0.078},{"w":0.104562,"f":0.076},{"w":0.104574,"f":0.073},
{"w":0.104585,"f":0.074},{"w":0.104594,"f":0.085},{"w":0.104603,"f":0.11},{"w":0.104609,"f":0.1},{"w":0.104614,"f":0.082},{"w":0.104626,"f":0.08},{"w":0.104638,"f":0.077},{"w":0.10465,"f":0.079},{"w":0.104662,"f":0.078},{"w":0.104674,"f":0.076},
{"w":0.104686,"f":0.079},{"w":0.104698,"f":0.077},{"w":0.104715,"f":0.076},{"w":0.104727,"f":0.075},{"w":0.104738,"f":0.074},{"w":0.10475,"f":0.077},{"w":0.104762,"f":0.08},{"w":0.104774,"f":0.078},{"w":0.104785,"f":0.082},{"w":0.104797,"f":0.085},
{"w":0.104809,"f":0.088},{"w":0.104821,"f":0.092},{"w":0.104832,"f":0.095},{"w":0.10484,"f":0.11},{"w":0.10485,"f":0.11},{"w":0.104859,"f":0.095},{"w":0.104868,"f":0.086},{"w":0.10488,"f":0.088},{"w":0.104892,"f":0.085},{"w":0.104903,"f":0.086},
{"w":0.104915,"f":0.09},{"w":0.104927,"f":0.095},{"w":0.104938,"f":0.1},{"w":0.10495,"f":0.1},{"w":0.104962,"f":0.092},{"w":0.104974,"f":0.086},{"w":0.104986,"f":0.088},{"w":0.104997,"f":0.091},{"w":0.105009,"f":0.09},{"w":0.105021,"f":0.087},
{"w":0.105033,"f":0.086},{"w":0.105039,"f":0.11},{"w":0.105045,"f":0.158},{"w":0.10505,"f":0.15},{"w":0.105056,"f":0.158},{"w":0.105062,"f":0.13},{"w":0.105068,"f":0.116},{"w":0.105074,"f":0.105},{"w":0.10508,"f":0.1},{"w":0.105092,"f":0.092},
{"w":0.105104,"f":0.086},{"w":0.105116,"f":0.083},{"w":0.105127,"f":0.08},{"w":0.105139,"f":0.078},{"w":0.105151,"f":0.085},{"w":0.105163,"f":0.09},{"w":0.105175,"f":0.087},{"w":0.105187,"f":0.084},{"w":0.105204,"f":0.082}
]},
"mark":{"type":"line","interpolate":"linear","color":"#1fa3a0","strokeWidth":2.2,"clip":true},
"encoding":{
"x":{"field":"w","type":"quantitative","axis":{"orient":"top","values":[0.1015,0.102,0.1025,0.103,0.1035,0.104,0.1045,0.105],"grid":false,"labels":false,"domain":false,"ticks":true,"tickSize":-7,"tickWidth":1.6,"tickColor":"#6a6a6a","title":null}},
"y":{"field":"f","type":"quantitative","axis":{"orient":"right","values":[50,10,5,1,0.5,0.1,0.05,0.01,0.005,0.001,0.0005,0.0001,0.00005,0.00001,0.000005],"grid":false,"labels":false,"domain":false,"ticks":true,"tickSize":-7,"tickWidth":1.6,"tickColor":"#6a6a6a","title":null}}
}}
]
}
